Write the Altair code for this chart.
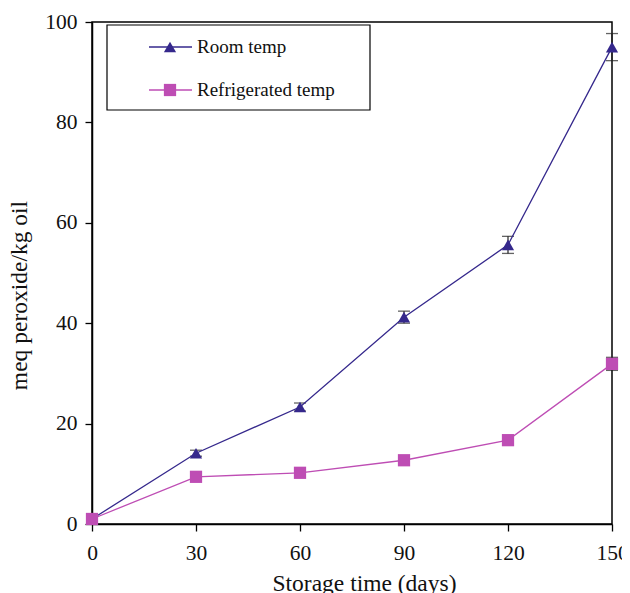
import altair as alt
import pandas as pd

days = [0, 30, 60, 90, 120, 150]
room = [1.0, 14.1, 23.3, 41.2, 55.6, 95.0]
room_err = [0.3, 0.6, 0.8, 1.2, 1.7, 2.7]
refr = [1.0, 9.4, 10.2, 12.7, 16.7, 31.9]
refr_err = [0.3, 0.5, 0.5, 0.6, 0.6, 1.3]
series = ["Room temp", "Refrigerated temp"]
colors = ["#35288C", "#BE4DB4"]
shapes = ["triangle-up", "square"]

rows = []
for name, vals, errs in [(series[0], room, room_err), (series[1], refr, refr_err)]:
    for d, v, e in zip(days, vals, errs):
        rows.append({"day": d, "value": v, "lo": v - e, "hi": v + e, "series": name})
df = pd.DataFrame(rows)

FONT = "Liberation Serif"

x = alt.X("day:Q", scale=alt.Scale(domain=[0, 150], nice=False),
          axis=alt.Axis(values=[0, 30, 60, 90, 120, 150], title="Storage time (days)",
                        titlePadding=8, titleX=272, labelFlush=False, labelPadding=11))
yscale = alt.Scale(domain=[0, 100], nice=False)
y = alt.Y("value:Q", scale=yscale,
          axis=alt.Axis(values=[0, 20, 40, 60, 80, 100], title="meq peroxide/kg oil",
                        titlePadding=13, titleY=273, labelPadding=8, labelFlush=False))
color = alt.Color("series:N", scale=alt.Scale(domain=series, range=colors), legend=None)
shape = alt.Shape("series:N", scale=alt.Scale(domain=series, range=shapes), legend=None)

base = alt.Chart(df)

err = base.mark_rule(color="#222222", strokeWidth=1.2).encode(
    x=x, y=alt.Y("lo:Q", scale=yscale), y2="hi:Q")
cap_lo = base.mark_tick(color="#222222", orient="horizontal", size=12, thickness=1.3).encode(
    x=x, y=alt.Y("lo:Q", scale=yscale))
cap_hi = base.mark_tick(color="#222222", orient="horizontal", size=12, thickness=1.3).encode(
    x=x, y=alt.Y("hi:Q", scale=yscale))
line = base.mark_line(strokeWidth=1.3).encode(x=x, y=y, color=color, detail="series:N")
pts = base.mark_point(filled=True, opacity=1, size=150).encode(x=x, y=y, color=color, shape=shape)

# legend
leg_layers = []
box = alt.Chart(pd.DataFrame({"a": [0]})).mark_rect(fillOpacity=0, stroke="black", strokeWidth=1.2).encode(
    x=alt.value(15), x2=alt.value(278), y=alt.value(3), y2=alt.value(88))
leg_layers.append(box)
for i, (name, c, s) in enumerate(zip(series, colors, shapes)):
    ly = 25 + 43 * i
    ldf = pd.DataFrame({"label": [name]})
    lc = alt.Chart(ldf)
    leg_layers.append(lc.mark_rule(color=c, strokeWidth=1.3).encode(
        x=alt.value(57), x2=alt.value(100), y=alt.value(ly)))
    leg_layers.append(lc.mark_point(shape=s, filled=True, color=c, opacity=1, size=150).encode(
        x=alt.value(78), y=alt.value(ly)))
    leg_layers.append(lc.mark_text(align="left", baseline="middle", font=FONT, fontSize=19,
                                   color="#111111").encode(
        x=alt.value(105), y=alt.value(ly), text="label:N"))

chart = alt.layer(err, cap_lo, cap_hi, line, pts, *leg_layers).properties(
    width=520, height=502,
    padding={"left": 84, "top": 14, "right": 10, "bottom": 80},
    autosize=alt.AutoSizeParams(type="none"),
).configure_view(stroke="black", strokeWidth=1.5).configure_axis(
    grid=False, domainColor="black", domainWidth=1.5, tickColor="black", tickWidth=1.3,
    tickSize=7, labelFont=FONT, labelFontSize=21.5, labelColor="#111111",
    titleFont=FONT, titleFontSize=23.5, titleFontWeight="normal", titleColor="#111111",
)

chart.save("out.html", embed_options={"renderer": "svg", "actions": False})
